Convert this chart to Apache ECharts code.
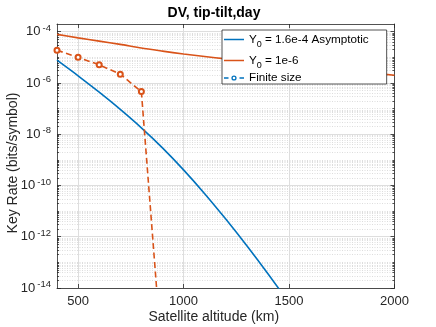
<!DOCTYPE html>
<html>
<head>
<meta charset="utf-8">
<script src="https://cdn.jsdelivr.net/npm/echarts@6/dist/echarts.min.js"></script>
<style>
  html, body { margin: 0; padding: 0; background: #fff; }
  #chart { width: 436px; height: 327px; }
</style>
</head>
<body>
<div id="chart"></div>
<script>
// altitude grid (km)
const altitude = [400, 500, 600, 700, 800, 900, 1000, 1100, 1200, 1300, 1400, 1500, 1600, 1700, 1800, 1900, 2000];
// Y0 = 1.6e-4 asymptotic (blue), 400..1500
const rateAsymptotic = [7.76e-6, 1.91e-6, 4.37e-7, 9.3e-8, 1.78e-8, 2.95e-9, 4.07e-10, 4.79e-11, 4.9e-12, 4.47e-13, 3.63e-14, 2.63e-15];
// Y0 = 1e-6 (orange)
const rateY0 = [7.9e-5, 5.75e-5, 4.3e-5, 3.2e-5, 2.3e-5, 1.75e-5, 1.35e-5, 1.08e-5, 8.7e-6, 7.2e-6, 5.9e-6, 4.9e-6, 4.1e-6, 3.4e-6, 2.8e-6, 2.4e-6, 2.0e-6];
// finite size (orange dashed + circles)
const finiteAltitude = [400, 500, 600, 700, 800, 900];
const rateFinite = [1.9e-5, 1.0e-5, 5.1e-6, 2.2e-6, 4.6e-7, 1.1e-17];

const xTicks = [500, 1000, 1500, 2000];
const yTicks = [1e-14, 1e-12, 1e-10, 1e-8, 1e-6, 1e-4];
const legendNames = ["Y0 = 1.6e-4 Asymptotic", "Y0 = 1e-6", "Finite size"];
const legendLabels = {
  "Y0 = 1.6e-4 Asymptotic": "{n|Y}{sub|0}{n| = 1.6e-4 Asymptotic}",
  "Y0 = 1e-6": "{n|Y}{sub|0}{n| = 1e-6}",
  "Finite size": "{n|Finite size}"
};

const BLUE = "#0072BD";
const ORANGE = "#D95319";
const AXIS = "#262626";
const FONT = "Liberation Sans";
const yMin = 1e-14, yMax = 2e-4;

// minor log ticks 2..9 of each decade, plus the odd decades
let yMinor = [];
for (let e = -14; e <= -4; e++) {
  if (e % 2 !== 0) yMinor.push(Math.pow(10, e));
  for (let k = 2; k <= 9; k++) {
    let v = k * Math.pow(10, e);
    if (v < yMax) yMinor.push(v);
  }
}

const zip = (xs, ys) => ys.map((y, i) => [xs[i], y]);

let chart = echarts.init(document.getElementById("chart"));

function logAxis(position, values, extra) {
  return Object.assign({
    type: "log",
    logBase: 10,
    min: yMin,
    max: yMax,
    position: position,
    axisLine: { show: false },
    axisTick: { show: true, inside: true, length: 2, customValues: values, lineStyle: { color: AXIS, width: 0.8 } },
    axisLabel: { show: false },
    splitLine: { show: false },
    minorTick: { show: false }
  }, extra);
}

let option = {
  animation: false,
  title: {
    text: "DV, tip-tilt,day",
    left: 214,
    textAlign: "center",
    top: 6,
    padding: 0,
    textStyle: { fontFamily: FONT, fontSize: 14, fontWeight: "bold", color: "#000" }
  },
  grid: { left: 57, right: 41.5, top: 24, bottom: 39, show: false, outerBoundsMode: "none", containLabel: false },
  legend: {
    orient: "vertical",
    left: 222,
    top: 30,
    data: legendNames.map(n => ({
      name: n,
      icon: n === "Finite size"
        ? "path://M0,4h4.5v1.3h-4.5z M15.5,4h4.5v1.3h-4.5z M7.4,4.65a2.6,2.6 0 1,0 5.2,0a2.6,2.6 0 1,0 -5.2,0z M8.7,4.65a1.3,1.3 0 1,1 2.6,0a1.3,1.3 0 1,1 -2.6,0z"
        : "path://M0,0h20v1.5h-20z"
    })),
    itemWidth: 20,
    itemHeight: 18,
    itemGap: 2,
    padding: [0, 18, 0, 2],
    backgroundColor: "#fff",
    borderColor: AXIS,
    borderWidth: 0.8,
    formatter: name => legendLabels[name],
    textStyle: {
      fontFamily: FONT,
      color: "#000",
      rich: {
        n: { fontFamily: FONT, fontSize: 11.7, lineHeight: 18, color: "#000" },
        sub: { fontFamily: FONT, fontSize: 9, lineHeight: 8, padding: [10, 0, 0, 0], color: "#000" }
      }
    }
  },
  xAxis: [
    {
      type: "value",
      min: 400,
      max: 2000,
      position: "bottom",
      name: "Satellite altitude (km)",
      nameLocation: "middle",
      nameGap: 22,
      nameMoveOverlap: false,
      nameTextStyle: { fontFamily: FONT, fontSize: 14, color: AXIS, padding: [0, 24, 0, 0] },
      axisLine: { show: true, lineStyle: { color: AXIS, width: 0.8 } },
      axisTick: { show: true, inside: true, length: 4, customValues: xTicks, lineStyle: { color: AXIS, width: 0.8 } },
      axisLabel: { customValues: xTicks, margin: 7, fontFamily: FONT, fontSize: 13, color: AXIS, formatter: v => String(v) },
      splitLine: { show: true, lineStyle: { color: "#dedede", width: 1 } }
    },
    {
      type: "value",
      min: 400,
      max: 2000,
      position: "top",
      axisLine: { show: true, lineStyle: { color: AXIS, width: 0.8 } },
      axisTick: { show: true, inside: true, length: 4, customValues: xTicks, lineStyle: { color: AXIS, width: 0.8 } },
      axisLabel: { show: false },
      splitLine: { show: false }
    }
  ],
  yAxis: [
    logAxis("left", yTicks, {
      name: "Key Rate (bits/symbol)",
      nameLocation: "middle",
      nameGap: 37,
      nameMoveOverlap: false,
      nameTextStyle: { fontFamily: FONT, fontSize: 14, color: AXIS, padding: [0, 14, 0, 0] },
      axisLine: { show: true, lineStyle: { color: AXIS, width: 0.8 } },
      axisTick: { show: true, inside: true, length: 4, customValues: yTicks, lineStyle: { color: AXIS, width: 0.8 } },
      axisLabel: {
        show: true,
        customValues: yTicks,
        margin: 6,
        formatter: v => "{b|10}{e|" + Math.round(Math.log10(v)) + "}",
        rich: {
          b: { fontFamily: FONT, fontSize: 13, color: AXIS },
          e: { fontFamily: FONT, fontSize: 9.5, color: AXIS, padding: [0, 0, 7, 2] }
        }
      },
      splitLine: { show: true, lineStyle: { color: "#dedede", width: 1 } }
    }),
    logAxis("left", yMinor, {
      splitLine: { show: true, lineStyle: { color: "#d4d4d4", width: 0.8, type: [1, 1.5] } }
    }),
    logAxis("right", yTicks, {
      axisLine: { show: true, lineStyle: { color: AXIS, width: 0.8 } },
      axisTick: { show: true, inside: true, length: 4, customValues: yTicks, lineStyle: { color: AXIS, width: 0.8 } }
    }),
    logAxis("right", yMinor, {})
  ],
  series: [
    {
      name: legendNames[0],
      type: "line",
      data: zip(altitude, rateAsymptotic),
      symbol: "none",
      smooth: 0.25,
      color: BLUE,
      lineStyle: { color: BLUE, width: 1.6 },
      clip: true,
      z: 3
    },
    {
      name: legendNames[1],
      type: "line",
      data: zip(altitude, rateY0),
      symbol: "none",
      smooth: 0.25,
      color: ORANGE,
      lineStyle: { color: ORANGE, width: 1.6 },
      clip: true,
      z: 3
    },
    {
      // legend entry only (drawn blue in the original legend)
      name: legendNames[2],
      type: "line",
      data: [],
      symbol: "emptyCircle",
      color: BLUE,
      lineStyle: { color: BLUE, width: 1.6, type: [6, 3.5] }
    },
    {
      name: "Finite size data",
      type: "line",
      data: zip(finiteAltitude, rateFinite),
      symbol: "emptyCircle",
      symbolSize: 5,
      showSymbol: true,
      showAllSymbol: true,
      color: ORANGE,
      itemStyle: { color: ORANGE, borderColor: ORANGE, borderWidth: 1.3 },
      lineStyle: { color: ORANGE, width: 1.6, type: [6, 3.5] },
      clip: true,
      z: 4
    }
  ]
};

chart.setOption(option);
</script>
</body>
</html>
